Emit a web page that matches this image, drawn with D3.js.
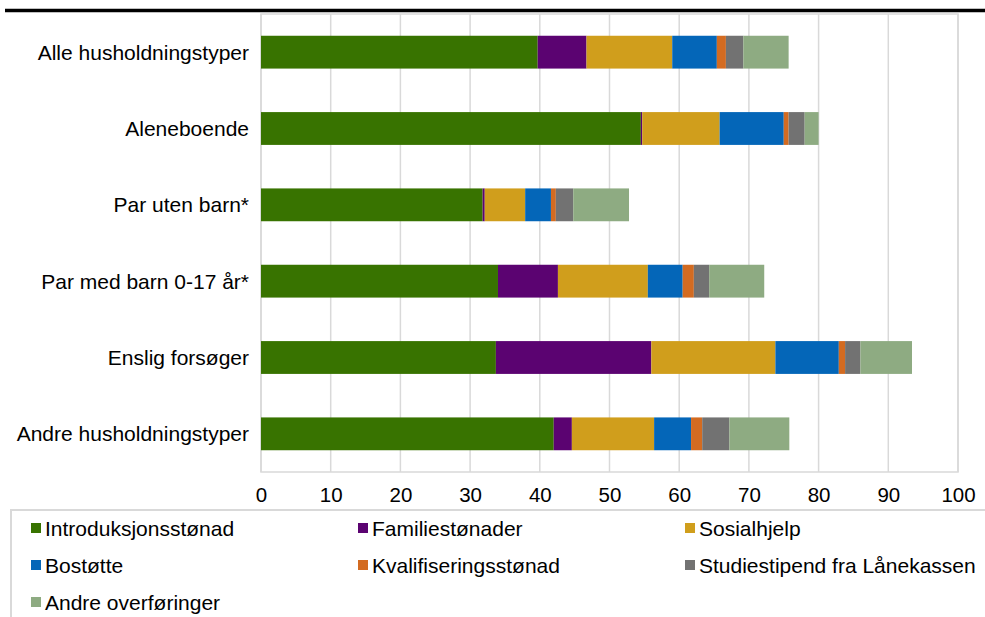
<!DOCTYPE html>
<html>
<head>
<meta charset="utf-8">
<script src="https://cdn.jsdelivr.net/npm/d3@7"></script>
<style>
  html, body { margin: 0; padding: 0; background: #ffffff; }
  svg { display: block; font-family: "Liberation Sans", Arial, sans-serif; }
</style>
</head>
<body>
<svg id="chart" width="985" height="617"></svg>
<script>
const categories = ["Alle husholdningstyper", "Aleneboende", "Par uten barn*", "Par med barn 0-17 år*", "Enslig forsøger", "Andre husholdningstyper"];
const seriesNames = ["Introduksjonsstønad", "Familiestønader", "Sosialhjelp", "Bostøtte", "Kvalifiseringsstønad", "Studiestipend fra Lånekassen", "Andre overføringer"];
const seriesColors = ["#387300", "#5b0371", "#d09e1c", "#0466b8", "#d36b21", "#727272", "#8eab82"];
const introduksjonsstonad = [39.7, 54.5, 31.8, 34.0, 33.7, 42.0];
const familiestonader     = [7.0, 0.2, 0.3, 8.6, 22.3, 2.6];
const sosialhjelp         = [12.3, 11.1, 5.8, 12.9, 17.8, 11.8];
const bostotte            = [6.4, 9.2, 3.7, 5.0, 9.1, 5.3];
const kvalifisering       = [1.3, 0.7, 0.7, 1.6, 0.9, 1.6];
const studiestipend       = [2.5, 2.3, 2.5, 2.2, 2.2, 3.9];
const andreOverforinger   = [6.5, 2.0, 8.0, 7.9, 7.4, 8.6];
const xTicks = [0, 10, 20, 30, 40, 50, 60, 70, 80, 90, 100];

const seriesValues = [introduksjonsstonad, familiestonader, sosialhjelp, bostotte, kvalifisering, studiestipend, andreOverforinger];

const svg = d3.select("#chart");
const plot = { left: 261, right: 958, top: 14, bottom: 472 };

// top black rule
svg.append("line").attr("x1", 5).attr("x2", 985).attr("y1", 10.5).attr("y2", 10.5)
  .attr("stroke", "#000").attr("stroke-width", 3.5);

const x = d3.scaleLinear().domain([0, 100]).range([plot.left, plot.right]);
const y = d3.scaleBand().domain(categories).range([plot.top, plot.bottom]).paddingInner(0.57).paddingOuter(0.285);

// gridlines
svg.append("g").selectAll("line").data(xTicks).join("line")
  .attr("x1", d => x(d)).attr("x2", d => x(d))
  .attr("y1", plot.top).attr("y2", plot.bottom)
  .attr("stroke", "#d9d9d9").attr("stroke-width", 1.5);
svg.append("rect").attr("x", plot.left).attr("y", plot.top)
  .attr("width", plot.right - plot.left).attr("height", plot.bottom - plot.top)
  .attr("fill", "none").attr("stroke", "#d9d9d9").attr("stroke-width", 1.5);

// stacked data
const rows = categories.map((c, i) => {
  const o = { category: c };
  seriesNames.forEach((s, j) => o[s] = seriesValues[j][i]);
  return o;
});
const stacked = d3.stack().keys(seriesNames)(rows);
const color = d3.scaleOrdinal().domain(seriesNames).range(seriesColors);

svg.append("g").selectAll("g").data(stacked).join("g")
  .attr("fill", d => color(d.key))
  .selectAll("rect").data(d => d).join("rect")
  .attr("x", d => x(d[0]))
  .attr("y", d => y(d.data.category))
  .attr("width", d => x(d[1]) - x(d[0]))
  .attr("height", y.bandwidth());

// category labels
svg.append("g").selectAll("text").data(categories).join("text")
  .attr("x", 249).attr("y", d => y(d) + y.bandwidth() / 2)
  .attr("dy", "0.36em").attr("text-anchor", "end")
  .attr("font-size", 21).attr("fill", "#000").text(d => d);

// x axis
const xAxis = svg.append("g").attr("transform", `translate(0,${plot.bottom})`)
  .call(d3.axisBottom(x).tickValues(xTicks).tickSize(0).tickPadding(15).tickFormat(d3.format("d")));
xAxis.select(".domain").remove();
xAxis.selectAll("text").attr("font-size", 20.5).attr("fill", "#000").attr("font-family", "Liberation Sans, Arial, sans-serif");

// legend box
svg.append("path").attr("d", "M11,618 V510 H990")
  .attr("fill", "none").attr("stroke", "#d9d9d9").attr("stroke-width", 2);

const legendCols = [31, 358, 685];
const legendRows = [528, 565, 602];
const legend = svg.append("g").selectAll("g").data(seriesNames).join("g")
  .attr("transform", (d, i) => `translate(${legendCols[i % 3]},${legendRows[Math.floor(i / 3)]})`);
legend.append("rect").attr("x", 0).attr("y", -5).attr("width", 10).attr("height", 10)
  .attr("fill", d => color(d));
legend.append("text").attr("x", 14).attr("y", 0).attr("dy", "0.36em")
  .attr("font-size", 21).attr("fill", "#000").text(d => d);
</script>
</body>
</html>
